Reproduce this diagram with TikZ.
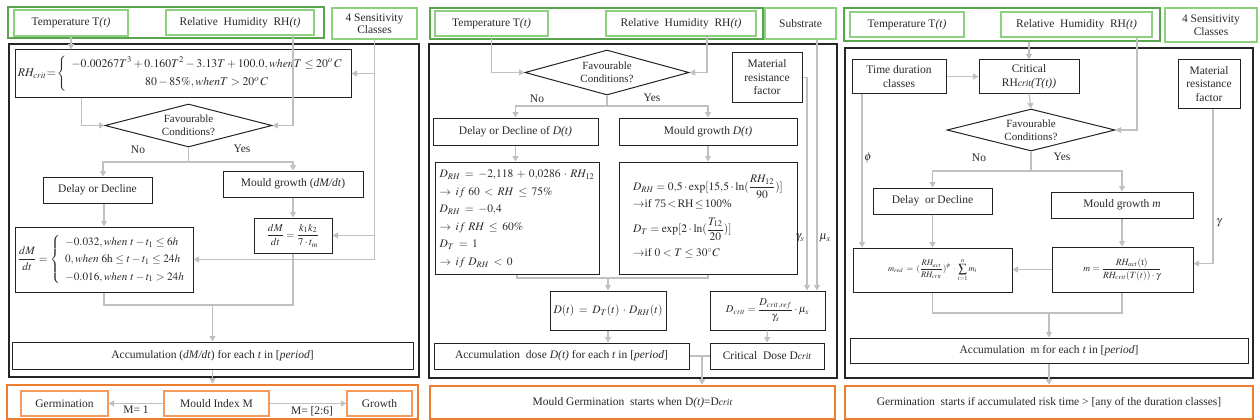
\documentclass[tikz,border=0pt]{standalone}
\usepackage{mathptmx}
\usepackage[no-math]{fontspec}
\setmainfont{Liberation Serif}
\usepackage{graphicx}
\usetikzlibrary{arrows.meta,shapes.geometric,calc}
\definecolor{cGout}{RGB}{88,165,78}
\definecolor{cGin}{RGB}{140,208,128}
\definecolor{cOout}{RGB}{237,125,49}
\definecolor{cOin}{RGB}{242,155,95}
\definecolor{cLine}{RGB}{192,192,192}
\definecolor{cBox}{RGB}{35,35,35}
\definecolor{cTxt}{RGB}{40,40,40}
\newcommand\bx[7]{\node[#2, minimum width={(#5)-(#3)}, minimum height={(#6)-(#4)}] (#1) at ({((#3)+(#5))/2},{((#4)+(#6))/2}) {#7};}
\newcommand\widemath{\medmuskip=5mu plus 2mu\thickmuskip=7mu plus 3mu}
\begin{document}
\begin{tikzpicture}[x=1pt,y=-1pt,
  every node/.style={text=cTxt, font=\fontsize{11.5}{13.5}\selectfont},
  wbox/.style={draw=cBox, line width=1pt, inner sep=0pt, align=center},
  bigbox/.style={draw=black!85, line width=1.8pt, inner sep=0pt},
  gbox/.style={draw=cGout, line width=1.8pt, inner sep=0pt},
  ginbox/.style={draw=cGin, line width=1.4pt, inner sep=0pt, align=center},
  obox/.style={draw=cOout, line width=2.6pt, inner sep=0pt, align=center},
  oinbox/.style={draw=cOin, line width=1.4pt, inner sep=0pt, align=center},
  conn/.style={draw=cLine, line width=1.2pt},
  arr/.style={conn, -{Triangle[width=6pt,length=5.5pt]}},
  fav/.style={diamond, draw=cBox, line width=1pt, inner sep=0pt},
  lbl/.style={inner sep=1pt}
]
\useasboundingbox (0,0) rectangle (1260,420);
% ================= PANEL 1 =================
\bx{G1}{gbox}{8}{7}{324}{38}{}
\bx{T1}{ginbox}{14}{10}{128}{36}{Temperature T\textit{(t)}}
\bx{RH1}{ginbox}{166}{10}{314}{35}{Relative\ \ Humidity\ \ RH\textit{(t)}}
\bx{S1}{ginbox}{332}{8}{417}{39}{4 Sensitivity\\[-1pt]Classes}
\bx{B1}{bigbox}{9}{44}{419}{377}{}
\bx{RHc1}{wbox}{15}{50}{351}{97}{\resizebox{330pt}{!}{$RH_{crit}{=}\left\{\begin{array}{c}-0.00267T^{3}+0.160T^{2}-3.13T+100.0, whenT\le 20^{o}\,C\\[5pt] 80-85\%, whenT>20^{o}\,C\end{array}\right.$}}
\node[fav, minimum width=167pt, minimum height=43pt] (fav1) at (188.5,125.5) {};
\node[align=center, font=\fontsize{11}{13}\selectfont] (fav1t) at (fav1) {Favourable\\Conditions?};
\node[lbl] (no1) at (138,150) {No};
\node[lbl] (yes1) at (242,149) {Yes};
\bx{D1}{wbox}{43}{177}{152}{203}{Delay or Decline}
\bx{MG1}{wbox}{223}{171}{363}{197}{Mould growth (\textit{dM/dt})}
\bx{K1}{wbox}{254}{218}{332}{253}{\fontsize{10.5}{12}\selectfont$\displaystyle\frac{dM}{dt}=\frac{k_1k_2}{7\cdot t_m}$}
\bx{F1}{wbox}{15}{227}{193}{292}{\resizebox{172pt}{!}{$\displaystyle\frac{dM}{dt}=\left\{\renewcommand\arraystretch{1.3}\begin{array}{l}-0.032, when\ t-t_1\le 6h\\0, when\ 6\mathrm{h}\le t-t_1\le 24h\\-0.016, when\ t-t_1>24h\end{array}\right.$}}
\bx{Acc1}{wbox}{12}{342}{413}{369}{Accumulation (\textit{dM/dt}) for each \textit{t} in [\textit{period}]}
\bx{O1}{obox}{7}{385}{418}{419}{}
\bx{Germ1}{oinbox}{21}{391}{108}{416}{Germination}
\bx{MI1}{oinbox}{164}{391}{269}{416}{Mould Index M}
\bx{Grow1}{oinbox}{347}{391}{412}{416}{Growth}
% connectors panel 1
\draw[arr] (T1.south) -- (T1.south |- RHc1.north);
\draw[arr] ([xshift=53pt]RH1.south) |- (fav1.east);
\draw[arr] ([xshift=67pt]RHc1.south west) |- (fav1.west);
\draw[arr] (S1.south) |- (RHc1.east);
\draw[arr] (S1.south) |- (K1.east);
\draw[arr] (S1.south) |- (F1.east);
\coordinate (j1) at (188.5,162);
\draw[conn] (fav1.south) -- (j1);
\draw[arr] (j1) -| ([xshift=5.5pt]D1.north);
\draw[arr] (j1) -| (MG1.north);
\draw[arr] (MG1.south) -- (K1.north);
\draw[arr] (D1.south -| F1.north) -- (F1.north);
\coordinate (j2) at (212.5,305);
\draw[conn] (F1.south) |- (j2) -| (K1.south);
\draw[arr] (j2) -- (Acc1.north);
\draw[arr] (Acc1.south) -- (Acc1.south |- O1.north);
\draw[arr] (MI1.west) -- node[below, lbl, yshift=-1pt] (m1) {M= 1} (Germ1.east);
\draw[arr] (MI1.east) -- node[below, lbl, yshift=-1pt, xshift=4pt] (m26) {M= [2:6]} (Grow1.west);
% ================= PANEL 2 =================
\bx{G2}{gbox}{430}{8}{763}{39}{}
\bx{T2}{ginbox}{435}{11}{548}{36}{Temperature T\textit{(t)}}
\bx{RH2}{ginbox}{606}{11}{756}{36}{Relative\ \ Humidity\ \ RH\textit{(t)}}
\bx{Sub2}{ginbox}{765}{8}{836}{39}{Substrate}
\bx{B2}{bigbox}{429}{44}{837}{378}{}
\node[fav, minimum width=164pt, minimum height=45pt] (fav2) at (607,72.5) {};
\node[align=center, font=\fontsize{11}{13}\selectfont] (fav2t) at (fav2) {Favourable\\Conditions?};
\node[lbl] (no2) at (537,99) {No};
\node[lbl] (yes2) at (652,98) {Yes};
\bx{Mat2}{wbox}{732}{53}{802}{102}{Material\\resistance\\factor}
\bx{D2}{wbox}{433}{118}{598}{145}{Delay\ or Decline\ of \textit{D(t)}}
\bx{MG2}{wbox}{619}{118}{797}{145}{Mould growth \textit{D(t)}}
\bx{F2}{wbox}{435}{162}{599}{274}{\fontsize{11.5}{13}\selectfont\widemath\renewcommand\arraystretch{1.35}\begin{tabular}{@{}l@{}}$D_{RH}=-2{,}118+0{,}0286\cdot RH_{12}$\\$\rightarrow if\ 60<RH\le 75\%$\\$D_{RH}=-0{,}4$\\$\rightarrow if\ RH\le 60\%$\\$D_{T}=1$\\$\rightarrow if\ D_{RH}<0$\end{tabular}}
\bx{F3}{wbox}{619}{162}{797}{274}{\fontsize{11.5}{13}\selectfont\begin{tabular}{@{}l@{}}$\displaystyle D_{RH}=0{,}5\cdot\exp[15{,}5\cdot\ln(\frac{RH_{12}}{90})]$\\[3pt]$\rightarrow$if 75$\,<\,$RH$\,\le\,$100\%\\[6pt]$\displaystyle D_{T}=\exp[2\cdot\ln(\frac{T_{12}}{20})]$\\[11pt]$\rightarrow$if $0<T\le 30^{\circ}C$\end{tabular}}
\bx{DT2}{wbox}{550}{291}{666}{330}{\raisebox{-7pt}{\fontsize{11.5}{13}\selectfont\widemath$D(t)=D_{T}(t)\cdot D_{RH}(t)$}}
\bx{Dc2}{wbox}{710}{291}{825}{330}{\fontsize{10.5}{12.5}\selectfont$\displaystyle D_{crit}=\frac{D_{crit,ref}}{\gamma_s}\cdot\mu_x$}
\bx{Acc2}{wbox}{434}{343}{689}{369}{Accumulation\ \ dose \textit{D(t)} for each \textit{t} in [\textit{period}]}
\bx{CD2}{wbox}{710}{343}{824}{369}{Critical\ \ Dose D\textit{\fontsize{9.5}{11}\selectfont crit}}
\bx{O2}{obox}{430}{386}{835}{419}{Mould Germination\ \ starts when D\textit{(t)}=D\textit{\fontsize{9.5}{11}\selectfont crit}}
\node[lbl] (gs2) at (800,238) {$\gamma_s$};
\node[lbl] (mx2) at (825,238) {$\mu_x$};
% connectors panel 2
\draw[arr] (T2.south) |- (fav2.west);
\draw[arr] ([xshift=26pt]RH2.south) |- (fav2.east);
\coordinate (j3) at (607,106);
\draw[conn] (fav2.south) -- (j3);
\draw[arr] (j3) -| (D2.north);
\draw[arr] (j3) -| (MG2.north);
\draw[arr] (D2.south) -- (D2.south |- F2.north);
\draw[arr] (MG2.south) -- (MG2.south |- F3.north);
\coordinate (j4) at (608,278);
\draw[conn] (F2.south) |- (j4) -| (F3.south);
\draw[arr] (j4) -- (DT2.north);
\draw[arr] (Mat2.east) -| ([xshift=39.5pt]Dc2.north);
\draw[arr] ([xshift=16.5pt]Sub2.south) -- ([xshift=49.5pt]Dc2.north);
\draw[arr] (DT2.south) -- (DT2.south |- Acc2.north);
\draw[arr] (Dc2.south) -- (CD2.north);
\draw[conn] (Acc2.east) -- (CD2.west);
\coordinate (j5) at (702,356);
\draw[arr] (j5) -- (j5 |- O2.north);
% ================= PANEL 3 =================
\bx{G3}{gbox}{844}{8}{1160}{41}{}
\bx{T3}{ginbox}{850}{12}{964}{37}{Temperature T\textit{(t)}}
\bx{RH3}{ginbox}{1001}{12}{1152}{37}{Relative\ \ Humidity\ \ RH\textit{(t)}}
\bx{S3}{ginbox}{1165}{8}{1257}{42}{4 Sensitivity\\[-1pt]Classes}
\bx{B3}{bigbox}{845}{48}{1253}{378}{}
\bx{TD3}{wbox}{852}{60}{946}{93}{Time duration\\classes}
\bx{Crit3}{wbox}{979}{60}{1079}{93}{Critical\\RH\textit{\fontsize{9.5}{11}\selectfont crit}\textit{(T(t))}}
\node[fav, minimum width=168pt, minimum height=42pt] (fav3) at (1031,130) {};
\node[align=center, font=\fontsize{11}{13}\selectfont] (fav3t) at (fav3) {Favourable\\Conditions?};
\node[lbl] (no3) at (979,158) {No};
\node[lbl] (yes3) at (1062,157) {Yes};
\node[lbl] (phi3) at (868,158) {$\phi$};
\bx{Mat3}{wbox}{1178}{60}{1240}{108}{Material\\resistance\\factor}
\node[lbl] (gam3) at (1219,223) {$\gamma$};
\bx{D3}{wbox}{873}{188}{992}{214}{Delay\ \ or Decline}
\bx{MG3}{wbox}{1051}{192}{1193}{218}{Mould growth \textit{m}}
\bx{Mred3}{wbox}{853}{248}{1012}{292}{\fontsize{8.5}{10}\selectfont\widemath$\displaystyle m_{red}=(\frac{RH_{act}}{RH_{crit}})^{\phi}\cdot\sum_{i=1}^{n}m_i$}
\bx{M3}{wbox}{1052}{247}{1193}{292}{\fontsize{9.5}{11}\selectfont$\displaystyle m=\frac{RH_{act}(\mathrm{t})}{RH_{crit}(T(t))\cdot\gamma}$}
\bx{Acc3}{wbox}{850}{338}{1248}{363}{Accumulation\ \ m for each \textit{t} in [\textit{period}]}
\bx{O3}{obox}{845}{386}{1253}{419}{Germination\ \ starts if accumulated risk time > [any of the duration classes]}
% connectors panel 3
\draw[arr] (G3.south -| Crit3.north) -- (Crit3.north);
\draw[arr] (TD3.east) -- (Crit3.west);
\draw[arr] (Crit3.south) -- (fav3.north);
\draw[arr] ([xshift=60.5pt]RH3.south) |- (fav3.east);
\coordinate (j6) at (1031,171);
\draw[conn] (fav3.south) -- (j6);
\draw[arr] (j6) -| (D3.north);
\draw[arr] (j6) -| (MG3.north);
\draw[arr] ([xshift=-37pt]TD3.south) -- ([xshift=-37pt]TD3.south |- Mred3.north);
\draw[arr] (D3.south) -- (D3.south |- Mred3.north);
\draw[arr] (MG3.south) -- (MG3.south |- M3.north);
\draw[arr] (M3.west) -- (M3.west -| Mred3.east);
\draw[arr] ([xshift=4pt]Mat3.south) |- ([yshift=6pt]M3.east);
\coordinate (j7) at (1049,313);
\draw[conn] (D3.south |- Mred3.south) |- (j7) -| (MG3.south |- M3.south);
\draw[arr] (j7) -- (Acc3.north);
\draw[arr] (Acc3.south) -- (Acc3.south |- O3.north);
\end{tikzpicture}
\end{document}
